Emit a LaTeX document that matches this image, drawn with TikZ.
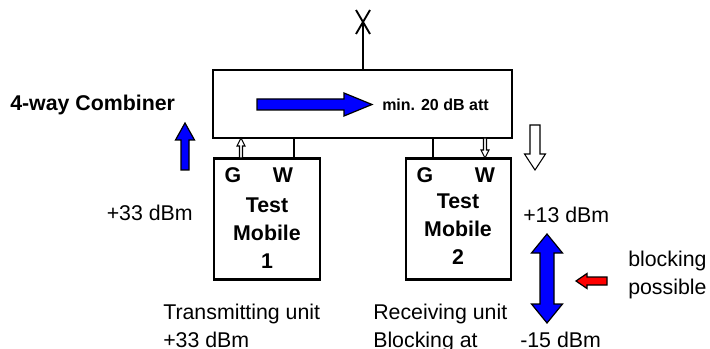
\documentclass[tikz,border=0pt]{standalone}
\usepackage{fontspec}
\setmainfont{Liberation Sans}
\usetikzlibrary{positioning}

\tikzset{
  unitbox/.style={draw, line width=2.2pt, inner sep=0pt},
  wire/.style={line width=2.2pt},
  lbl/.style={font=\fontsize{16}{20.3}\selectfont, inner sep=0pt},
  blbl/.style={font=\fontsize{16}{21}\selectfont\bfseries, inner sep=0pt},
  bluearrow/.style={fill=blue, draw=black, line width=0.9pt},
  redarrow/.style={fill=red, draw=black, line width=0.9pt},
  hollowarrow/.style={fill=white, draw=black, line width=0.8pt},
}

\begin{document}
\begin{tikzpicture}[x=0.75pt,y=-0.75pt]
  \useasboundingbox (0,0) rectangle (710,349);

  % combiner and the two mobiles
  \node[unitbox, minimum width=224.25pt, minimum height=51pt] (comb) at (362.5,104) {};
  \node[unitbox, minimum width=79.5pt, minimum height=91pt] (tm1) at (267,219) {};
  \node[unitbox, minimum width=78.75pt, minimum height=91pt] (tm2) at (458.5,219) {};

  % antenna
  \coordinate (ant) at (363,22);
  \draw[wire] (ant) -- (comb.north -| ant);
  \draw[line width=1.4pt] (ant) ++(-7,-12) -- ++(14,24);
  \draw[line width=1.4pt] (ant) ++(7,-12) -- ++(-14,24);

  % W and G ports
  \coordinate (w1) at (294,0);
  \coordinate (g2) at (433,0);
  \draw[wire] (comb.south -| w1) -- (tm1.north -| w1);
  \draw[wire] (comb.south -| g2) -- (tm2.north -| g2);
  \draw[hollowarrow] (239.5,158) -- (239.5,146) -- (237,146) -- (241,138)
    -- (245,146) -- (242.5,146) -- (242.5,158) -- cycle;
  \draw[hollowarrow] (483.5,138) -- (483.5,150) -- (481,150) -- (485,158)
    -- (489,150) -- (486.5,150) -- (486.5,138) -- cycle;

  \node[blbl, anchor=base] (g1l) at (233,182) {G};
  \node[blbl, anchor=base] (w1l) at (283,182) {W};
  \node[blbl, anchor=base] (g2l) at (425,182) {G};
  \node[blbl, anchor=base] (w2l) at (485,182) {W};
  \node[blbl, align=center, anchor=base] (tm1l) at (267,268) {Test\\Mobile\\1};
  \node[blbl, align=center, anchor=base] (tm2l) at (458,264) {Test\\Mobile\\2};

  % signal arrows
  \filldraw[bluearrow] (257,99) -- (344,99) -- (344,93) -- (372,104.5)
    -- (344,116) -- (344,110) -- (257,110) -- cycle;
  \filldraw[bluearrow] (181,170) -- (181,140) -- (175.5,140) -- (185,123)
    -- (194.5,140) -- (189,140) -- (189,170) -- cycle;
  \filldraw[hollowarrow] (530,125) -- (540,125) -- (540,154) -- (545.5,154)
    -- (535,170) -- (524.5,154) -- (530,154) -- cycle;
  \filldraw[bluearrow] (547,234) -- (562.5,253) -- (554,253) -- (554,304)
    -- (562.5,304) -- (547,323) -- (531.5,304) -- (540,304) -- (540,253)
    -- (531.5,253) -- cycle;
  \filldraw[redarrow] (576,281) -- (587,273.5) -- (587,277) -- (607,277)
    -- (607,285) -- (587,285) -- (587,288.5) -- cycle;

  % labels
  \node[blbl, anchor=base west] (combl) at (10,110.5) {4-way Combiner};
  \node[font=\fontsize{12}{14}\selectfont\bfseries, inner sep=0pt, anchor=base west]
    (att) at (382,110.5) {min. 20 dB att};
  \node[lbl, anchor=base east] (tx) at (193,220.5) {+33 dBm};
  \node[lbl, anchor=base west] (hi) at (523,222) {+13 dBm};
  \node[lbl, anchor=base west] (lo) at (520,347) {-15 dBm};
  \node[lbl, align=left, anchor=base west] (txu) at (163,347) {Transmitting unit\\+33 dBm};
  \node[lbl, align=left, anchor=base west] (rxu) at (373,347) {Receiving unit\\Blocking at};
  \node[lbl, align=left, anchor=base west] (blk) at (628,294) {blocking\\possible};
\end{tikzpicture}
\end{document}
